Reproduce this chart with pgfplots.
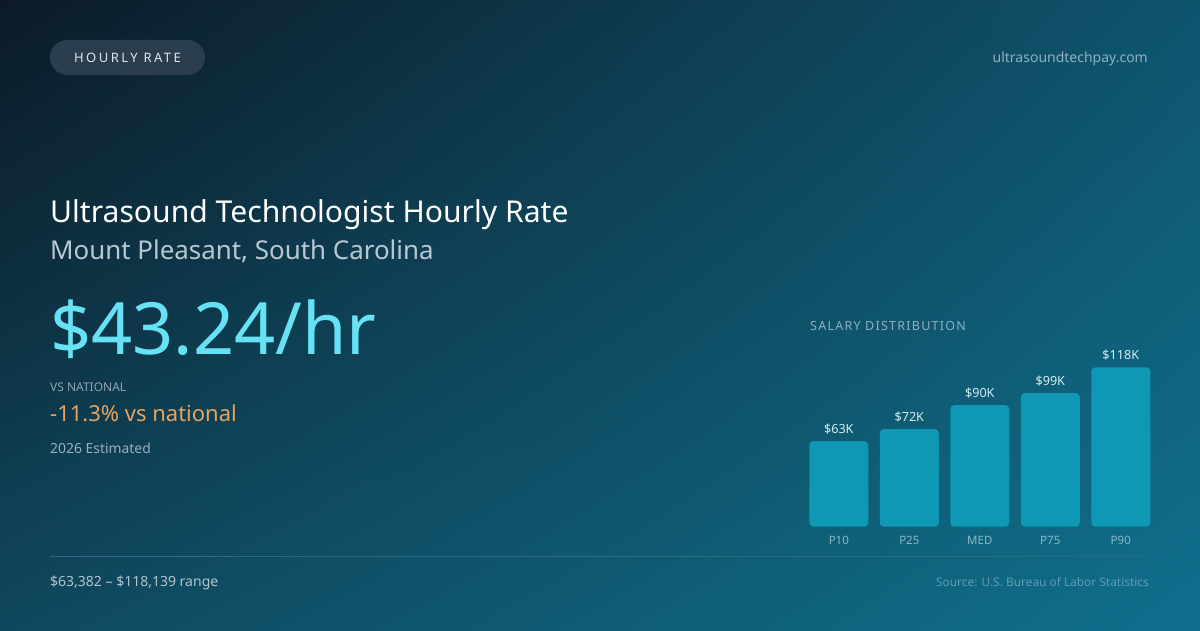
\documentclass[border=0pt]{standalone}
\usepackage{fontspec}
\setmainfont{Noto Sans}
\newfontfamily\spaced[LetterSpace=10]{Noto Sans}
\newfontfamily\wide[LetterSpace=19]{Noto Sans}
\usepackage{pgfplots}
\pgfplotsset{compat=1.18}
\usetikzlibrary{shadings}

\definecolor{bgUL}{RGB}{12,26,38}
\definecolor{bgUR}{RGB}{15,84,110}
\definecolor{bgLL}{RGB}{15,72,94}
\definecolor{bgLR}{RGB}{15,112,140}
\definecolor{barc}{RGB}{14,152,180}
\definecolor{pill}{RGB}{43,62,78}
\definecolor{pilltxt}{RGB}{220,230,236}
\definecolor{urlc}{RGB}{143,178,194}
\definecolor{subc}{RGB}{184,200,210}
\definecolor{pricec}{RGB}{103,226,245}
\definecolor{dimc}{RGB}{142,165,179}
\definecolor{orangec}{RGB}{233,162,92}
\definecolor{estc}{RGB}{154,177,190}
\definecolor{rulec}{RGB}{43,106,128}
\definecolor{rangec}{RGB}{176,196,206}
\definecolor{srcc}{RGB}{95,155,178}
\definecolor{headc}{RGB}{143,176,192}
\definecolor{valc}{RGB}{213,236,242}
\definecolor{tickc}{RGB}{138,184,200}

\newcommand{\fs}[1]{\fontsize{#1}{#1}\selectfont}

\begin{document}
\begin{tikzpicture}[x=1pt,y=1pt]
\useasboundingbox (0,0) rectangle (1200,630);
\shade[upper left=bgUL, upper right=bgUR, lower left=bgLL, lower right=bgLR]
  (0,0) rectangle (1200,630);

% header
\fill[pill, rounded corners=17.5pt] (50,555) rectangle (205,590);
\node[text=pilltxt, inner sep=0pt] at (127.5,572.5) {\wide\fs{13}HOURLY RATE};
\node[anchor=base east, text=urlc, inner sep=0pt] at (1148,567) {\fs{14}ultrasoundtechpay.com};

% left block
\node[anchor=base west, text=white, inner sep=0pt] at (50,407) {\fs{30.1}Ultrasound Technologist Hourly Rate};
\node[anchor=base west, text=subc, inner sep=0pt] at (50,370) {\fs{25.9}Mount Pleasant, South Carolina};
\node[anchor=base west, text=pricec, inner sep=0pt] at (50,275) {\fs{72}\$43.24/hr};
\node[anchor=base west, text=dimc, inner sep=0pt] at (50,238) {\fs{12}VS NATIONAL};
\node[anchor=base west, text=orangec, inner sep=0pt] at (50,208.3) {\fs{22}-11.3\% vs national};
\node[anchor=base west, text=estc, inner sep=0pt] at (50,176) {\fs{13.9}2026 Estimated};

% footer
\draw[rulec, line width=1pt] (50,73.3) -- (1150,73.3);
\node[anchor=base west, text=rangec, inner sep=0pt] at (50,44) {\fs{14}\$63,382 – \$118,139 range};
\node[anchor=base east, text=srcc, inner sep=0pt] at (1149,43.3) {\fs{11.9}Source: U.S. Bureau of Labor Statistics};

% chart
\node[anchor=base west, text=headc, inner sep=0pt] at (810,299.3) {\spaced\fs{12.5}SALARY DISTRIBUTION};

\begin{axis}[
    at={(803.55pt,103.3pt)}, anchor=south west,
    scale only axis,
    width=352.5pt, height=162pt,
    xmin=-0.5, xmax=4.5,
    ymin=0, ymax=120,
    axis line style={draw=none},
    major tick length=0pt,
    ytick=\empty,
    xtick={0,1,2,3,4},
    xticklabels={P10,P25,MED,P75,P90},
    xticklabel style={anchor=base, yshift=-17.4pt, text=tickc, font=\fs{11.5}},
    clip=false,
    /pgf/number format/assume math mode=true,
    ybar, bar width=59pt,
    nodes near coords={\$\pgfmathprintnumber[fixed,precision=0]{\pgfplotspointmeta}K},
    every node near coord/.append style={anchor=base, yshift=7.7pt, text=valc, font=\fs{12.6}, inner sep=0pt},
]
\addplot[draw=none, fill=barc, rounded corners=4pt] coordinates {
    (0,63.4) (1,72.3) (2,90.1) (3,99.0) (4,118.1)
};
\end{axis}
\end{tikzpicture}
\end{document}
